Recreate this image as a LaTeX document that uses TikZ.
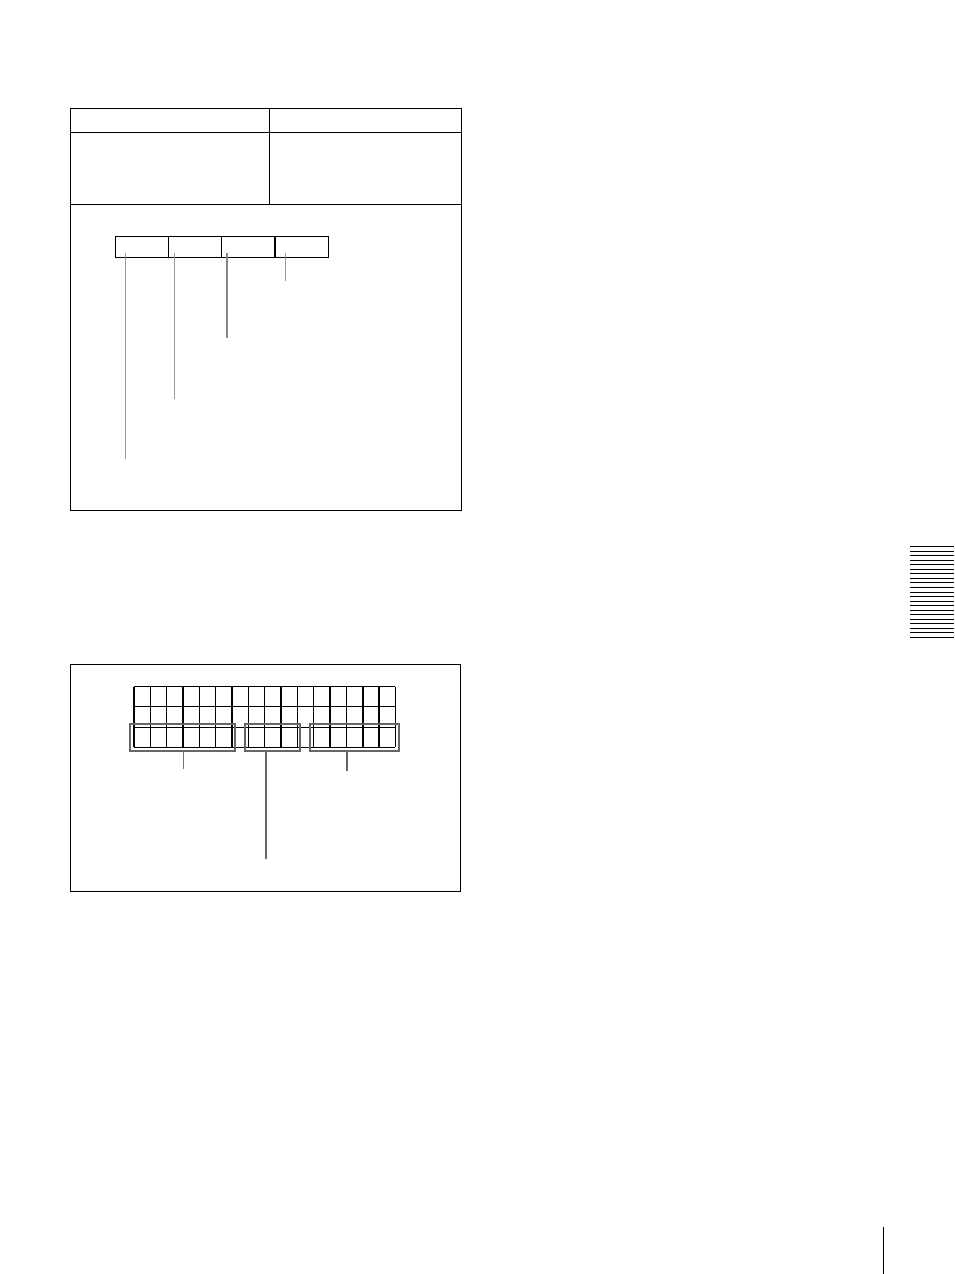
\documentclass[tikz,border=0pt]{standalone}
\usepackage{tikz}
\usetikzlibrary{positioning}

\begin{document}
\begin{tikzpicture}[x=1pt, y=-1pt, line width=1pt,
        field/.style={draw, line width=1.2pt, minimum width=53.25pt, minimum height=21pt, inner sep=0pt, outer sep=0pt},
        bracket/.style={draw=black!60, line width=2pt, minimum height=27.3pt, inner sep=0pt, outer sep=0pt},
        lead/.style={draw=black!40, line width=1pt}]
                \useasboundingbox (0,0) rectangle (954,1274);
                \draw (70.5,108.5) rectangle (461,510);
                \draw (70.5,132.5) -- (461,132.5) (70.5,204.5) -- (461,204.5) (269.5,108.5) -- (269.5,204.5);
                \node [field] (f1) at (141.9,246.8) {};
                \node [field, right = 0pt of f1] (f2) {};
                \node [field, right = 0pt of f2] (f3) {};
                \node [field, right = 0pt of f3] (f4) {};
                \coordinate (l1) at (125.7,458.7);
                \coordinate (l2) at (174.3,398.7);
                \coordinate (l3) at (226.7,337.7);
                \coordinate (l4) at (285.7,280.7);
                \draw [lead] (l1 |- f1.south) ++(0,-4) -- (l1);
                \draw [lead] (l2 |- f2.south) ++(0,-4) -- (l2);
                \draw [lead, draw=black!47, line width=2pt] (l3 |- f3.south) ++(0,-4) -- (l3);
                \draw [lead] (l4 |- f4.south) ++(0,-4) -- (l4);
                \draw (70.5,664.5) rectangle (460.5,891.5);
                \foreach \row in {0,...,3}
                    \draw [line width=1.2pt] (134,686.5+\row*20.3) -- (395.3,686.5+\row*20.3);
                \foreach \col in {1,2,4,5,7,8,10,11,12,13,16}
                    \draw [line width=1.2pt] (134+\col*16.33,686.5) -- ++(0,60.9);
                \foreach \col in {0,3,6,9,14,15}
                    \draw [line width=2.2pt] (134+\col*16.33,686.5) -- ++(0,60.9);
                \node [bracket, minimum width=105pt] (b1) at (182.8,737.4) {};
                \node [bracket, minimum width=55.3pt] (b2) at (272.7,737.4) {};
                \node [bracket, minimum width=89pt] (b3) at (354.8,737.4) {};
                \coordinate (m1) at (183.7,768.7);
                \coordinate (m2) at (265.7,859.3);
                \coordinate (m3) at (346.7,770.7);
                \draw [lead, draw=black!55] (m1 |- b1.south) -- (m1);
                \draw [lead, draw=black!60, line width=2pt] (m2 |- b2.south) -- (m2);
                \draw [lead, draw=black!60, line width=2pt] (m3 |- b3.south) -- (m3);
                \foreach \k in {0,...,20}
                    \draw (910,546.7+\k*4.53) -- (954,546.7+\k*4.53);
                \draw (883.3,1226.7) -- (883.3,1274);
            \end{tikzpicture}
\end{document}
